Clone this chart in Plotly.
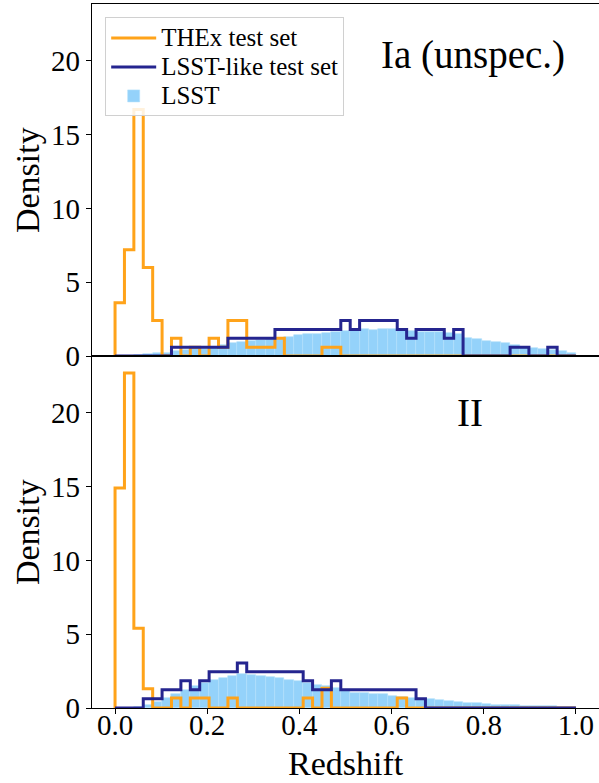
import numpy as np
import plotly.graph_objects as go
from plotly.subplots import make_subplots

# ---- data (49 common redshift bins between 0 and 1) ----
bin_edges = np.linspace(0.0, 1.0, 50)

ia_thex = [3.6, 7.2, 16.7, 6.0, 2.4, 0, 1.2, 0, 0.6, 0, 1.2, 0.6, 2.4, 2.4, 0.6, 0.6, 0.6,
           1.2, 0, 0, 0, 0, 0.6, 0.6, 0, 0, 0, 0, 0, 0, 0, 0, 0, 0, 0, 0, 0, 0, 0, 0, 0, 0,
           0, 0, 0, 0, 0, 0, 0]
ia_lsstlike = [0, 0, 0, 0, 0, 0, 0.6, 0.6, 0.6, 0.6, 0.6, 0.6, 1.2, 1.2, 1.2, 1.2, 1.2,
               1.8, 1.8, 1.8, 1.8, 1.8, 1.8, 1.8, 2.4, 1.8, 2.4, 2.4, 2.4, 2.4, 1.8, 1.2,
               1.8, 1.8, 1.8, 1.2, 1.8, 0, 0, 0, 0, 0, 0.6, 0.6, 0, 0, 0.6, 0, 0]
ia_lsst = [0.01, 0.03, 0.06, 0.12, 0.18, 0.22, 0.33, 0.38, 0.45, 0.48, 0.6, 0.72, 0.88,
           0.97, 1.04, 1.1, 1.12, 1.22, 1.32, 1.43, 1.48, 1.51, 1.56, 1.64, 1.72, 1.78,
           1.86, 1.78, 1.82, 1.86, 1.76, 1.7, 1.66, 1.66, 1.65, 1.56, 1.48, 1.25, 1.14,
           1.04, 0.93, 0.85, 0.72, 0.63, 0.57, 0.45, 0.42, 0.34, 0.22]

ii_thex = [14.9, 22.7, 5.4, 1.3, 0, 0, 0.67, 0, 0.67, 0.67, 0, 0, 0.67, 0, 0, 0, 0, 0, 0,
           0, 0.67, 0, 1.34, 0, 0, 0, 0, 0, 0, 0, 0.67, 0, 0, 0, 0, 0, 0, 0, 0, 0, 0, 0,
           0, 0, 0, 0, 0, 0, 0]
ii_lsstlike = [0, 0, 0, 0.62, 0.62, 1.23, 1.23, 1.84, 1.23, 1.84, 2.46, 2.46, 2.46, 3.05,
               2.46, 2.46, 2.46, 2.46, 2.46, 2.46, 1.84, 1.23, 1.23, 1.84, 1.23, 1.23, 1.23,
               1.23, 1.23, 1.23, 1.23, 1.23, 0.62, 0, 0, 0, 0, 0, 0, 0, 0, 0, 0, 0, 0, 0,
               0, 0, 0]
ii_lsst = [0.01, 0.03, 0.08, 0.22, 0.42, 0.68, 0.92, 1.25, 1.48, 1.68, 1.88, 2.04, 2.18,
           2.28, 2.26, 2.18, 2.1, 2.06, 1.92, 1.84, 1.7, 1.57, 1.48, 1.37, 1.18, 1.04, 1.02,
           0.95, 0.92, 0.82, 0.75, 0.66, 0.61, 0.58, 0.52, 0.47, 0.39, 0.34, 0.32, 0.27,
           0.21, 0.2, 0.19, 0.15, 0.14, 0.13, 0.11, 0.09, 0.08]

panel_labels = ["Ia (unspec.)", "II"]
series_names = ["THEx test set", "LSST-like test set", "LSST"]
x_tick_vals = [0, 0.2, 0.4, 0.6, 0.8, 1.0]
x_tick_text = ["0.0", "0.2", "0.4", "0.6", "0.8", "1.0"]
y_tick_vals = [0, 5, 10, 15, 20]

ORANGE = "#ffa31a"
NAVY = "#25258f"
SKY = "#94d2fa"
FONT = "Liberation Serif"

edges = list(bin_edges)
centers = [(a + b) / 2 for a, b in zip(edges[:-1], edges[1:])]
width = edges[1] - edges[0]


def step_xy(vals):
    xs = [edges[0]] + edges[:-1] + [edges[-1]]
    ys = [0] + list(vals) + [0]
    return xs, ys


def legend_name(s):
    return '<span style="font-size:25px">' + s + '</span>'


fig = make_subplots(rows=2, cols=1, shared_xaxes=True, vertical_spacing=0)

panels = [(ia_thex, ia_lsstlike, ia_lsst), (ii_thex, ii_lsstlike, ii_lsst)]
for r, (thex, like, lsst) in enumerate(panels, start=1):
    show = r == 1
    fig.add_trace(go.Bar(x=centers, y=lsst, width=width, name=legend_name(series_names[2]),
                         marker=dict(color=SKY, line=dict(color="#b4e0fc", width=0.6)),
                         showlegend=show, legendrank=3), row=r, col=1)
    xs, ys = step_xy(thex)
    fig.add_trace(go.Scatter(x=xs, y=ys, mode="lines", line_shape="hv",
                             name=legend_name(series_names[0]),
                             line=dict(color=ORANGE, width=3), showlegend=show, legendrank=1),
                  row=r, col=1)
    xs, ys = step_xy(like)
    fig.add_trace(go.Scatter(x=xs, y=ys, mode="lines", line_shape="hv",
                             name=legend_name(series_names[1]),
                             line=dict(color=NAVY, width=3), showlegend=show, legendrank=2),
                  row=r, col=1)

axis_common = dict(showline=True, linecolor="black", linewidth=1.3, mirror=True,
                   ticks="outside", ticklen=5, tickwidth=1.3, tickcolor="black",
                   showgrid=False, zeroline=False,
                   tickfont=dict(family=FONT, size=29, color="black"))

fig.update_xaxes(range=[-0.05, 1.05], tickvals=x_tick_vals, ticktext=x_tick_text,
                 ticklabelstandoff=-14, **axis_common)
fig.update_xaxes(showticklabels=False, ticks="", row=1, col=1)
fig.update_yaxes(range=[0, 23.85], tickvals=y_tick_vals, **axis_common)

fig.add_annotation(text=panel_labels[0], x=0.777, y=20.4, xref="x", yref="y",
                   xanchor="center", yanchor="middle",
                   showarrow=False, font=dict(family=FONT, size=39, color="black"))
fig.add_annotation(text=panel_labels[1], x=0.77, y=20.0, xref="x2", yref="y2",
                   xanchor="center", yanchor="middle",
                   showarrow=False, font=dict(family=FONT, size=39, color="black"))

for yc in (0.75, 0.25):
    fig.add_annotation(text="Density", textangle=-90, x=-0.128, y=yc, xref="paper",
                       yref="paper", xanchor="center", yanchor="middle", showarrow=False,
                       font=dict(family=FONT, size=34, color="black"))
fig.add_annotation(text="Redshift", x=0.5, y=-0.079, xref="paper", yref="paper",
                   xanchor="center", yanchor="middle",
                   showarrow=False, font=dict(family=FONT, size=34, color="black"))

fig.update_layout(
    width=599, height=783,
    margin=dict(l=92, r=0, t=4, b=75),
    paper_bgcolor="white", plot_bgcolor="white",
    barmode="overlay", bargap=0,
    showlegend=True,
    legend=dict(x=0.026, y=0.981, xanchor="left", yanchor="top",
                bgcolor="rgba(255,255,255,0.85)", bordercolor="#d0d0d0", borderwidth=1,
                font=dict(family=FONT, size=20, color="black"), itemwidth=45,
                tracegroupgap=0),
)

fig.write_html("out.html")
